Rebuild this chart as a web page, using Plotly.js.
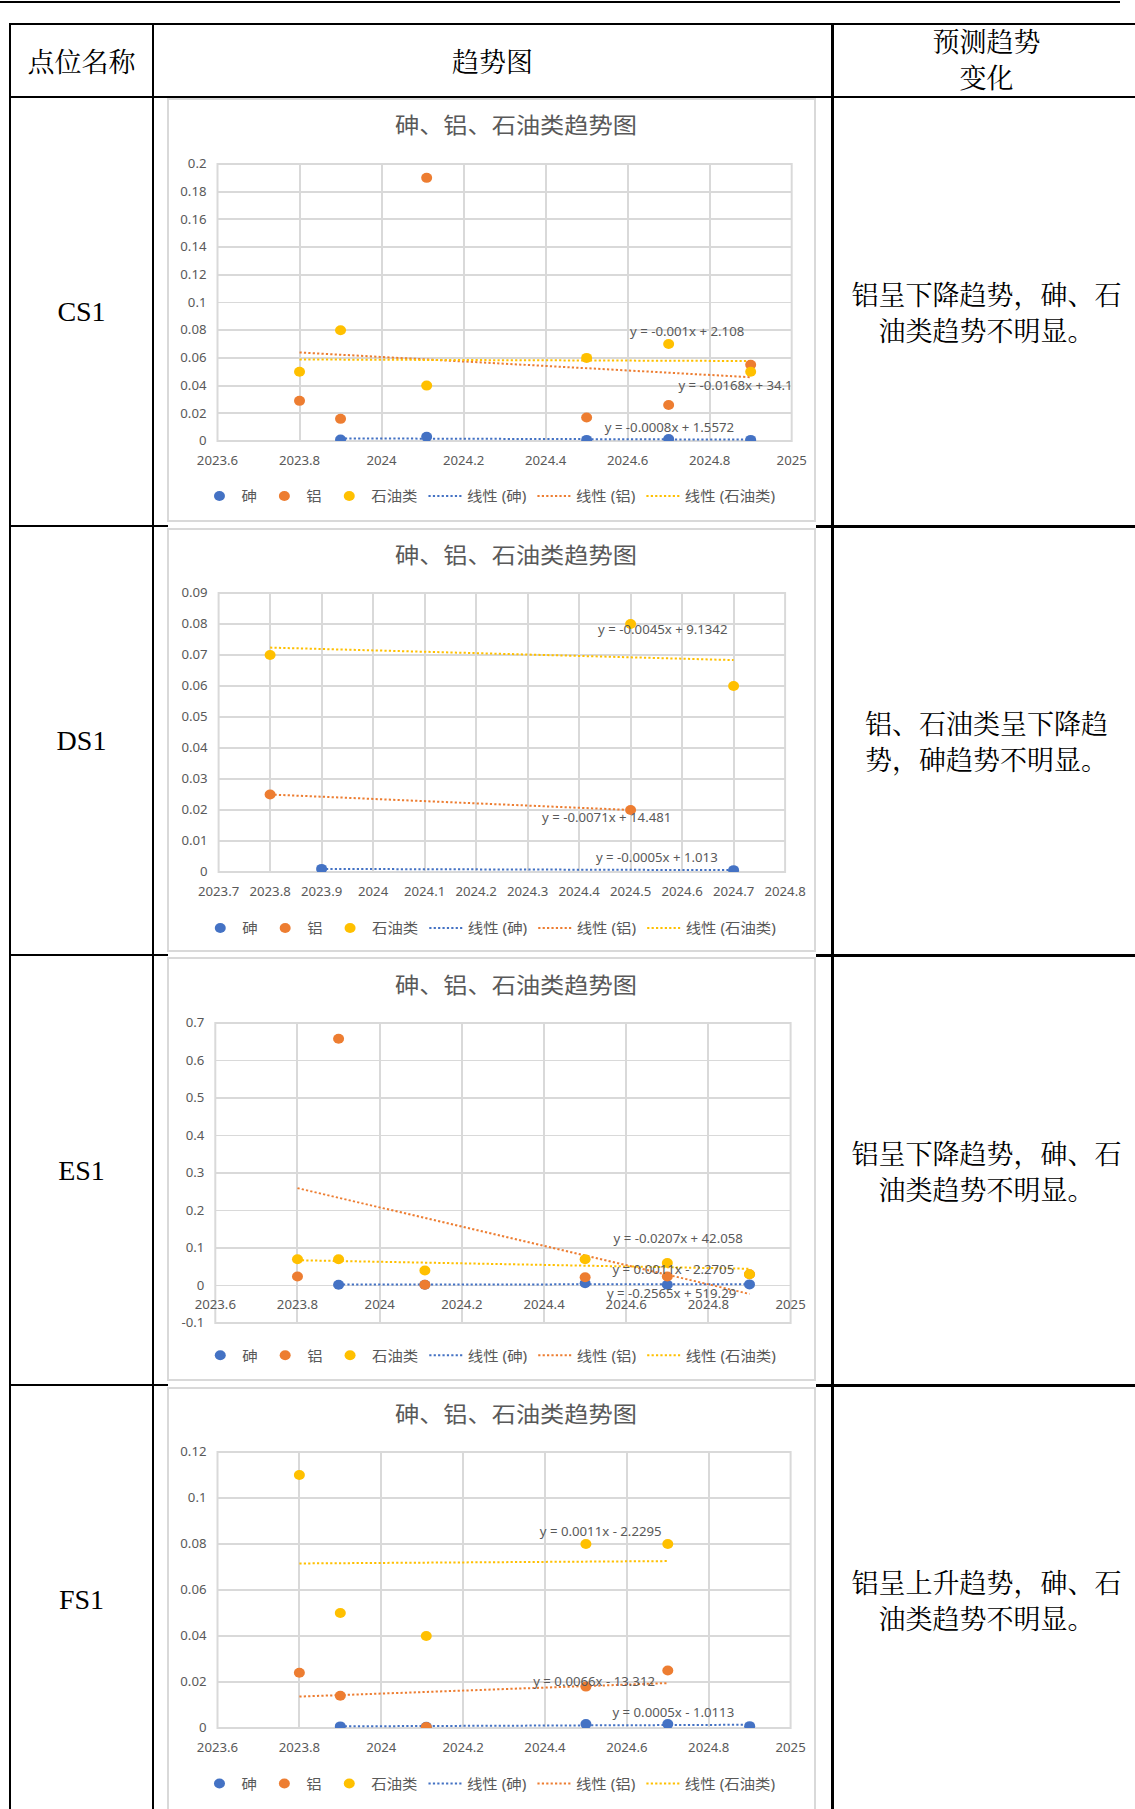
<!DOCTYPE html>
<html><head><meta charset="utf-8">
<script src="https://cdn.plot.ly/plotly-3.0.1.min.js"></script>
<style>
html,body{margin:0;padding:0;background:#fff;}
body{width:1135px;height:1809px;position:relative;overflow:hidden;}
.ln{position:absolute;background:#000;}
.cell{position:absolute;display:flex;align-items:center;justify-content:center;text-align:center;color:#000;
  font-family:"Noto Serif CJK SC","Noto Sans CJK SC",serif;font-size:27px;line-height:36px;}
.code{font-family:"Liberation Serif","Times New Roman",serif;font-size:28px;}
.frame{position:absolute;box-sizing:border-box;border:2px solid #d9d9d9;background:#fff;}
.plot{position:absolute;transform-origin:0 0;transform:scaleX(1.1);}
</style></head><body>
<div id="page"></div>
<script>
// ---------------- data ----------------
const headerTexts = ['点位名称', '趋势图', ['预测趋势', '变化']];
const siteNames = ['CS1', 'DS1', 'ES1', 'FS1'];
const predictions = [
  ['铝呈下降趋势，砷、石', '油类趋势不明显。'],
  ['铝、石油类呈下降趋', '势，砷趋势不明显。'],
  ['铝呈下降趋势，砷、石', '油类趋势不明显。'],
  ['铝呈上升趋势，砷、石', '油类趋势不明显。']
];
const chartTitle = '砷、铝、石油类趋势图';
const seriesNames = ['砷', '铝', '石油类'];
const trendNames = ['线性 (砷)', '线性 (铝)', '线性 (石油类)'];

// CS1
const cs1AsX = [2023.9, 2024.11, 2024.5, 2024.7, 2024.9];
const cs1AsY = [0.001, 0.003, 0.0008, 0.0015, 0.0008];
const cs1AlX = [2023.8, 2023.9, 2024.11, 2024.5, 2024.7, 2024.9];
const cs1AlY = [0.029, 0.016, 0.19, 0.017, 0.026, 0.055];
const cs1OilX = [2023.8, 2023.9, 2024.11, 2024.5, 2024.7, 2024.9];
const cs1OilY = [0.05, 0.08, 0.04, 0.06, 0.07, 0.05];
const cs1Eq = ['y = -0.0008x + 1.5572', 'y = -0.0168x + 34.1', 'y = -0.001x + 2.108'];

// DS1
const ds1AsX = [2023.9, 2024.7];
const ds1AsY = [0.001, 0.0006];
const ds1AlX = [2023.8, 2024.5];
const ds1AlY = [0.025, 0.02];
const ds1OilX = [2023.8, 2024.5, 2024.7];
const ds1OilY = [0.07, 0.08, 0.06];
const ds1Eq = ['y = -0.0005x + 1.013', 'y = -0.0071x + 14.481', 'y = -0.0045x + 9.1342'];

// ES1
const es1AsX = [2023.9, 2024.11, 2024.5, 2024.7, 2024.9];
const es1AsY = [0.002, 0.002, 0.006, 0.002, 0.003];
const es1AlX = [2023.8, 2023.9, 2024.11, 2024.5, 2024.7, 2024.9];
const es1AlY = [0.024, 0.658, 0.002, 0.022, 0.024, 0.03];
const es1OilX = [2023.8, 2023.9, 2024.11, 2024.5, 2024.7, 2024.9];
const es1OilY = [0.07, 0.07, 0.04, 0.07, 0.06, 0.03];
const es1Eq = ['y = 0.0011x - 2.2705', 'y = -0.2565x + 519.29', 'y = -0.0207x + 42.058'];

// FS1
const fs1AsX = [2023.9, 2024.11, 2024.5, 2024.7, 2024.9];
const fs1AsY = [0.0007, 0.0005, 0.0017, 0.0017, 0.0008];
const fs1AlX = [2023.8, 2023.9, 2024.11, 2024.5, 2024.7];
const fs1AlY = [0.024, 0.014, 0.0004, 0.018, 0.025];
const fs1OilX = [2023.8, 2023.9, 2024.11, 2024.5, 2024.7];
const fs1OilY = [0.11, 0.05, 0.04, 0.08, 0.08];
const fs1Eq = ['y = 0.0005x - 1.0113', 'y = 0.0066x - 13.312', 'y = 0.0011x - 2.2295'];

// tick labels
const xTicksA = [2023.6, 2023.8, 2024, 2024.2, 2024.4, 2024.6, 2024.8, 2025];
const xLabelsA = ['2023.6', '2023.8', '2024', '2024.2', '2024.4', '2024.6', '2024.8', '2025'];
const xTicksB = [2023.7, 2023.8, 2023.9, 2024, 2024.1, 2024.2, 2024.3, 2024.4, 2024.5, 2024.6, 2024.7, 2024.8];
const xLabelsB = ['2023.7', '2023.8', '2023.9', '2024', '2024.1', '2024.2', '2024.3', '2024.4', '2024.5', '2024.6', '2024.7', '2024.8'];
const yTicksCS1 = [0, 0.02, 0.04, 0.06, 0.08, 0.1, 0.12, 0.14, 0.16, 0.18, 0.2];
const yLabelsCS1 = ['0', '0.02', '0.04', '0.06', '0.08', '0.1', '0.12', '0.14', '0.16', '0.18', '0.2'];
const yTicksDS1 = [0, 0.01, 0.02, 0.03, 0.04, 0.05, 0.06, 0.07, 0.08, 0.09];
const yLabelsDS1 = ['0', '0.01', '0.02', '0.03', '0.04', '0.05', '0.06', '0.07', '0.08', '0.09'];
const yTicksES1 = [-0.1, 0, 0.1, 0.2, 0.3, 0.4, 0.5, 0.6, 0.7];
const yLabelsES1 = ['-0.1', '0', '0.1', '0.2', '0.3', '0.4', '0.5', '0.6', '0.7'];
const yTicksFS1 = [0, 0.02, 0.04, 0.06, 0.08, 0.1, 0.12];
const yLabelsFS1 = ['0', '0.02', '0.04', '0.06', '0.08', '0.1', '0.12'];

// ---------------- layout / style ----------------
const COLORS = ['#4472C4', '#ED7D31', '#FFC000'];
const TEXT = '#595959';
const GRID = '#d9d9d9';
const FONT = 'Noto Sans, Noto Sans CJK SC, sans-serif';
const PW = 589, PH = 423;
const LEGEND_LEFT = 27;   // unscaled px from chart left

const page = document.getElementById('page');
function box(cls, l, t, w, h, html) {
  const d = document.createElement('div');
  d.className = cls;
  d.style.left = l + 'px'; d.style.top = t + 'px';
  d.style.width = w + 'px'; d.style.height = h + 'px';
  if (html !== undefined) d.innerHTML = html;
  page.appendChild(d);
  return d;
}

// table rules
box('ln', 0, 1, 1120, 2);
box('ln', 9, 23, 1126, 2);
box('ln', 9, 96, 1126, 2);
[525, 954, 1384].forEach(y => { box('ln', 9, y, 159, 2); box('ln', 816, y, 319, 2.5); });
box('ln', 9, 23, 2, 1786);
box('ln', 152, 23, 2, 1786);
box('ln', 831, 23, 2.5, 1786);

// header cells
box('cell', 11, 25, 141, 71, headerTexts[0]);
box('cell', 154, 25, 677, 71, headerTexts[1]);
box('cell', 833, 23, 307, 71, headerTexts[2].join('<br>'));

const rowTops = [97, 526, 956, 1385];
const rowH = 429;
rowTops.forEach((t, i) => {
  box('cell code', 11, t, 141, rowH, siteNames[i]);
  box('cell', 833, t, 307, rowH, predictions[i].join('<br>'));
});

function trend(xs, ys) {
  const n = xs.length;
  const mx = xs.reduce((a, b) => a + b, 0) / n;
  const my = ys.reduce((a, b) => a + b, 0) / n;
  let sxy = 0, sxx = 0;
  for (let i = 0; i < n; i++) { sxy += (xs[i] - mx) * (ys[i] - my); sxx += (xs[i] - mx) ** 2; }
  const b = sxy / sxx, a = my - b * mx;
  const x0 = Math.min(...xs), x1 = Math.max(...xs);
  return { x: [x0, x1], y: [a + b * x0, a + b * x1] };
}

const charts = [
  { top: 98, frameTop: 98, series: [[cs1AsX, cs1AsY], [cs1AlX, cs1AlY], [cs1OilX, cs1OilY]], eq: cs1Eq,
    eqPos: [[2024.701, 0.0096], [2024.863, 0.0398], [2024.744, 0.079]],
    xr: [2023.6, 2025], xt: xTicksA, xl: xLabelsA, yr: [0, 0.2], yt: yTicksCS1, yl: yLabelsCS1,
    m: { l: 45.2, r: 22.2, t: 66, b: 80.3 }, legY: 398 },
  { top: 528, frameTop: 528, series: [[ds1AsX, ds1AsY], [ds1AlX, ds1AlY], [ds1OilX, ds1OilY]], eq: ds1Eq,
    eqPos: [[2024.551, 0.00452], [2024.454, 0.01763], [2024.563, 0.0781]],
    xr: [2023.7, 2024.8], xt: xTicksB, xl: xLabelsB, yr: [0, 0.09], yt: yTicksDS1, yl: yLabelsDS1,
    m: { l: 45.5, r: 27.9, t: 65.3, b: 78.7 }, legY: 400.7 },
  { top: 958, frameTop: 957, series: [[es1AsX, es1AsY], [es1AlX, es1AlY], [es1OilX, es1OilY]], eq: es1Eq,
    eqPos: [[2024.715, 0.0418], [2024.711, -0.0205], [2024.728, 0.1246]],
    xr: [2023.6, 2025], xt: xTicksA, xl: xLabelsA, yr: [-0.1, 0.7], yt: yTicksES1, yl: yLabelsES1,
    m: { l: 42.5, r: 23, t: 65.3, b: 57.7 }, legY: 398 },
  { top: 1387, frameTop: 1387, series: [[fs1AsX, fs1AsY], [fs1AlX, fs1AlY], [fs1OilX, fs1OilY]], eq: fs1Eq,
    eqPos: [[2024.713, 0.00694], [2024.52, 0.0202], [2024.536, 0.0853]],
    xr: [2023.6, 2025], xt: xTicksA, xl: xLabelsA, yr: [0, 0.12], yt: yTicksFS1, yl: yLabelsFS1,
    m: { l: 45.2, r: 23, t: 64.7, b: 81.7 }, legY: 397.3 }
];

charts.forEach((c, ci) => {
  box('frame', 167, c.frameTop, 649, 424);
  const div = box('plot', 168, c.top, PW, PH);
  const traces = [];
  c.series.forEach((s, k) => {
    const tr = trend(s[0], s[1]);
    traces.push({ type: 'scatter', mode: 'lines', x: tr.x, y: tr.y, name: trendNames[k], legendrank: 4 + k,
      line: { color: COLORS[k], width: 2, dash: '2px,2px' }, hoverinfo: 'skip' });
  });
  c.series.forEach((s, k) => {
    traces.push({ type: 'scatter', mode: 'markers', x: s[0], y: s[1], name: seriesNames[k], legendrank: 1 + k,
      marker: { color: COLORS[k], size: 10, line: { width: 0 } } });
  });
  const plotW = PW - c.m.l - c.m.r;
  const plotH = PH - c.m.t - c.m.b;
  const zeroFrac = (0 - c.yr[0]) / (c.yr[1] - c.yr[0]);
  const layout = {
    width: PW, height: PH,
    margin: { l: c.m.l, r: c.m.r, t: c.m.t, b: c.m.b, autoexpand: false },
    paper_bgcolor: 'rgba(0,0,0,0)', plot_bgcolor: '#fff',
    font: { family: FONT, color: TEXT, size: 12 },
    title: { text: chartTitle, xref: 'container', yref: 'container', x: 0.537, y: 1 - 27.3 / PH,
      xanchor: 'center', yanchor: 'middle', font: { family: FONT, size: 22, color: TEXT } },
    showlegend: true,
    legend: { orientation: 'h', xref: 'paper', yref: 'paper',
      x: (LEGEND_LEFT - c.m.l) / plotW, xanchor: 'left',
      y: (plotH + c.m.t - c.legY) / plotH, yanchor: 'middle',
      font: { family: FONT, size: 14, color: TEXT },
      bgcolor: 'rgba(0,0,0,0)', traceorder: 'normal' },
    xaxis: { range: c.xr, tickmode: 'array', tickvals: c.xt, ticktext: c.xl, showgrid: true, gridcolor: GRID,
      gridwidth: 1.8, zeroline: false, showline: false, ticks: '', ticklabelstandoff: 11,
      tickfont: { size: 12, color: TEXT }, fixedrange: true,
      anchor: zeroFrac > 0 ? 'free' : 'y', position: zeroFrac > 0 ? zeroFrac : undefined },
    yaxis: { range: c.yr, tickmode: 'array', tickvals: c.yt, ticktext: c.yl, showgrid: true, gridcolor: GRID,
      gridwidth: 1.8, zeroline: false, showline: false, ticks: '', ticklabelstandoff: 9,
      tickfont: { size: 12, color: TEXT }, fixedrange: true },
    shapes: [{ type: 'rect', xref: 'paper', yref: 'paper', x0: 0, x1: 1, y0: 0, y1: 1,
      line: { color: GRID, width: 1.8 }, layer: 'below' }],
    annotations: c.eq.map((t, k) => ({ text: t, x: c.eqPos[k][0], y: c.eqPos[k][1], xref: 'x', yref: 'y',
      showarrow: false, xanchor: 'center', yanchor: 'middle', font: { family: FONT, size: 12, color: TEXT } }))
  };
  Plotly.newPlot(div, traces, layout, { staticPlot: true, displayModeBar: false });
});
</script>
</body></html>
